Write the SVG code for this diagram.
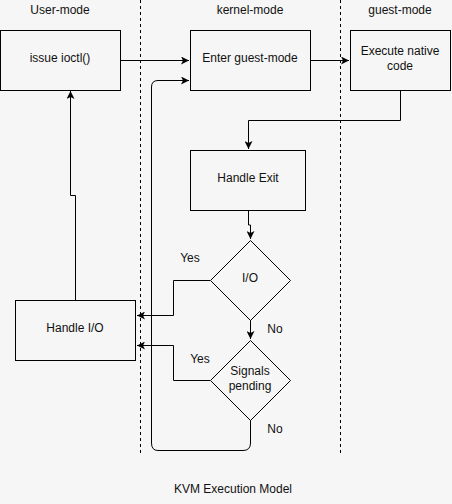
<svg xmlns="http://www.w3.org/2000/svg" width="452" height="504" viewBox="0 0 452 504">
<defs>
<style>
.bg{fill:#f6f6f6}
.box{fill:#f6f6f6;stroke:#000;stroke-width:1}
.ln{fill:none;stroke:#000;stroke-width:1}
.dash{fill:none;stroke:#000;stroke-width:1;stroke-dasharray:3,3}
text{font-family:"Liberation Sans",Arial,sans-serif;font-size:12px;fill:#111;text-anchor:middle}
</style>
<marker id="arr" viewBox="0 0 10 10" refX="10" refY="5" markerWidth="8" markerHeight="8" markerUnits="userSpaceOnUse" orient="auto">
<path d="M0,0 L10,5 L0,10 L2.5,5 z" fill="#000"/>
</marker>
</defs>
<rect class="bg" x="0" y="0" width="452" height="504"/>
<g id="lanes">
<line class="dash" x1="140.5" y1="0" x2="140.5" y2="456"/>
<line class="dash" x1="340.5" y1="0" x2="340.5" y2="456"/>
<text x="60" y="14">User-mode</text>
<text x="250" y="14">kernel-mode</text>
<text x="400" y="14">guest-mode</text>
</g>
<g id="connectors">
<path class="ln" d="M120,60.5 H189" marker-end="url(#arr)"/>
<path class="ln" d="M310,60.5 H349" marker-end="url(#arr)"/>
<path class="ln" d="M400.5,90 V120.5 H248.5 V149" marker-end="url(#arr)"/>
<path class="ln" d="M248.5,210 V225 H250.5 V239" marker-end="url(#arr)"/>
<path class="ln" d="M250.5,320 V339" marker-end="url(#arr)"/>
<path class="ln" d="M210,280.5 H173.5 V315.5 H137" marker-end="url(#arr)"/>
<path class="ln" d="M210,380.5 H173.5 V345.5 H137" marker-end="url(#arr)"/>
<path class="ln" d="M75.5,300 V195.5 H70.5 V91" marker-end="url(#arr)"/>
<path class="ln" d="M250.5,420 V443 Q250.5,450.5 243,450.5 H158 Q151.5,450.5 151.5,443 V87 Q151.5,80.5 158,80.5 H189" marker-end="url(#arr)"/>
</g>
<g id="issue-ioctl">
<rect class="box" x="0.5" y="30.5" width="120" height="60"/>
<text x="60" y="62">issue ioctl()</text>
</g>
<g id="enter-guest-mode">
<rect class="box" x="190.5" y="30.5" width="120" height="60"/>
<text x="250" y="62">Enter guest-mode</text>
</g>
<g id="execute-native-code">
<rect class="box" x="350.5" y="30.5" width="100" height="60"/>
<text x="400" y="55">Execute native</text>
<text x="400" y="70">code</text>
</g>
<g id="handle-exit">
<rect class="box" x="190.5" y="150.5" width="115" height="60"/>
<text x="248" y="182">Handle Exit</text>
</g>
<g id="io">
<path class="box" d="M250.5,240.5 L290.5,280.5 L250.5,320.5 L210.5,280.5 z"/>
<text x="250" y="282">I/O</text>
</g>
<g id="signals-pending">
<path class="box" d="M250.5,340.5 L290.5,380.5 L250.5,420.5 L210.5,380.5 z"/>
<text x="250" y="375">Signals</text>
<text x="250" y="390">pending</text>
</g>
<g id="handle-io">
<rect class="box" x="15.5" y="300.5" width="120" height="60"/>
<text x="75" y="332">Handle I/O</text>
</g>
<g id="labels">
<text x="190" y="262">Yes</text>
<text x="275" y="333">No</text>
<text x="200" y="363">Yes</text>
<text x="275" y="433">No</text>
<text x="233" y="493">KVM Execution Model</text>
</g>
</svg>
